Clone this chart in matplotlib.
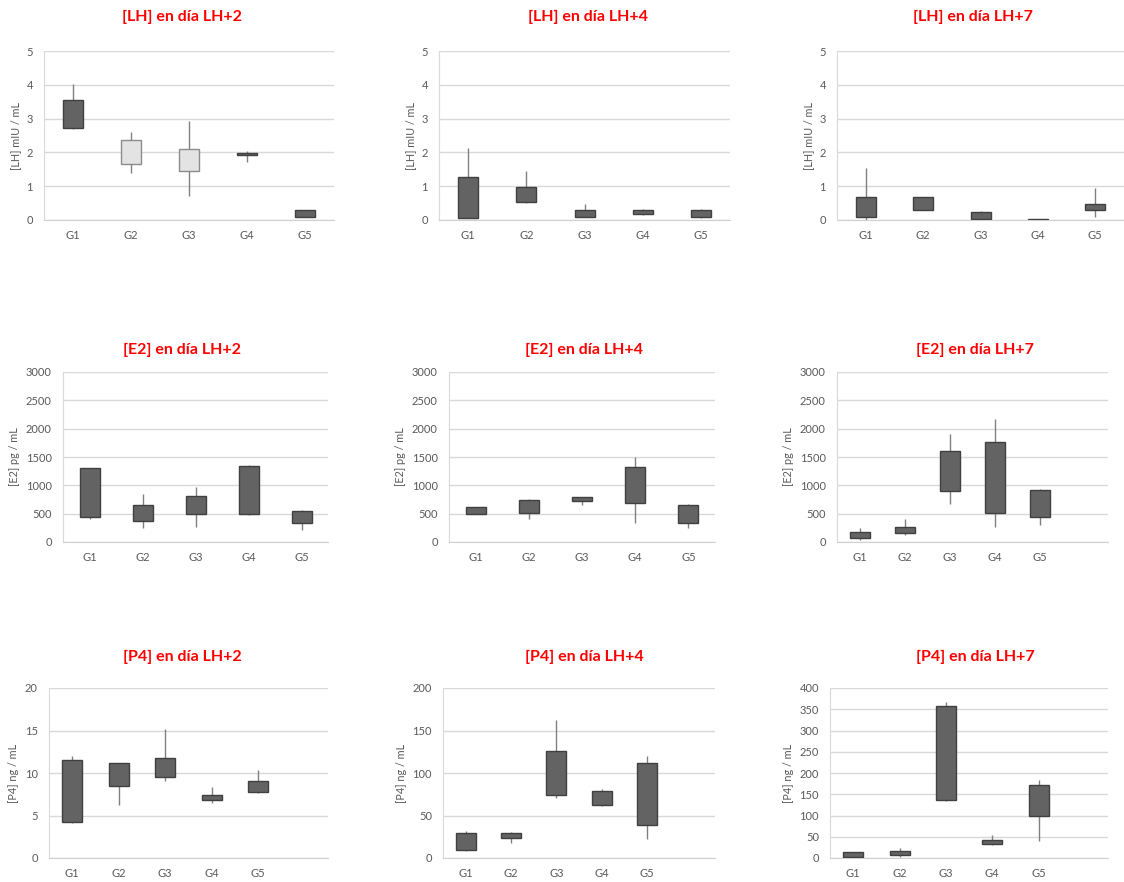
import matplotlib
matplotlib.use("Agg")
import matplotlib.pyplot as plt

plt.rcParams['font.family'] = ['Lato', 'DejaVu Sans']

grupos = ['G1', 'G2', 'G3', 'G4', 'G5']

# [LH] mIU/mL  -> min, caja inferior, caja superior, max
lh2_min = [2.70, 1.38, 0.71, 1.72, 0.08]
lh2_inf = [2.73, 1.65, 1.46, 1.91, 0.08]
lh2_sup = [3.56, 2.38, 2.10, 1.99, 0.31]
lh2_max = [4.03, 2.61, 2.92, 2.05, 0.31]

lh4_min = [0.07, 0.50, 0.08, 0.15, 0.05]
lh4_inf = [0.07, 0.53, 0.10, 0.17, 0.10]
lh4_sup = [1.26, 0.98, 0.31, 0.29, 0.31]
lh4_max = [2.14, 1.45, 0.46, 0.33, 0.33]

lh7_min = [0.00, 0.30, 0.02, 0.00, 0.08]
lh7_inf = [0.10, 0.30, 0.02, 0.00, 0.30]
lh7_sup = [0.69, 0.67, 0.24, 0.04, 0.47]
lh7_max = [1.55, 0.67, 0.28, 0.04, 0.94]

# [E2] pg/mL
e22_min = [413, 248, 266, 472, 207]
e22_inf = [443, 366, 502, 496, 337]
e22_sup = [1299, 650, 809, 1341, 555]
e22_max = [1300, 839, 963, 1358, 570]

e24_min = [500, 413, 650, 337, 254]
e24_inf = [502, 514, 715, 685, 331]
e24_sup = [620, 750, 791, 1329, 661]
e24_max = [620, 760, 800, 1506, 670]

e27_min = [41, 130, 679, 266, 295]
e27_inf = [71, 159, 904, 508, 443]
e27_sup = [177, 260, 1612, 1772, 915]
e27_max = [248, 402, 1902, 2167, 930]

# [P4] ng/mL
p42_min = [4.1, 6.2, 9.06, 6.43, 7.7]
p42_inf = [4.24, 8.43, 9.53, 6.78, 7.76]
p42_sup = [11.57, 11.14, 11.73, 7.37, 9.06]
p42_max = [12.04, 11.2, 15.18, 8.35, 10.39]

p44_min = [8.6, 17.6, 71, 61, 22.4]
p44_inf = [9.8, 23.1, 74.5, 62.4, 38.4]
p44_sup = [29.8, 29.8, 125.9, 78.4, 111.8]
p44_max = [31.4, 30.5, 162.7, 81.6, 119.6]

p47_min = [3.0, 3.1, 135, 31.4, 39.2]
p47_inf = [3.1, 6.3, 135.7, 33.7, 98]
p47_sup = [14.1, 15.7, 356.9, 42.4, 171]
p47_max = [14.1, 23.5, 366.3, 54.9, 184.3]

W, H = 1124, 882
OSCURO = '#636363'
CLARO = '#e3e3e3'

fig = plt.figure(figsize=(W / 100, H / 100), dpi=100)
fig.patch.set_facecolor('white')


def panel(izq, der, arriba, abajo, nslots, ymax, paso, ylabel, titulo, tx, ty,
          vmin, vinf, vsup, vmax, colores=None):
    ax = fig.add_axes([izq / W, 1 - abajo / H, (der - izq) / W, (abajo - arriba) / H])
    x = list(range(len(grupos)))
    slot_px = (der - izq) / nslots
    ancho = 20 / slot_px
    if colores is None:
        colores = [OSCURO] * len(grupos)
    bordes = ['#404040' if c == OSCURO else '#8c8c8c' for c in colores]
    ax.vlines(x, vmin, vmax, color='#808080', lw=1, zorder=2)
    alturas = [s - i for s, i in zip(vsup, vinf)]
    ax.bar(x, alturas, bottom=vinf, width=ancho, color=colores,
           edgecolor=bordes, linewidth=1, zorder=3)
    ax.set_xlim(-0.5, nslots - 0.5)
    ax.set_ylim(0, ymax)
    ticks = [paso * k for k in range(int(round(ymax / paso)) + 1)]
    ax.set_yticks(ticks)
    ax.set_xticks(x)
    ax.set_xticklabels(grupos)
    ax.yaxis.grid(True, color='#d9d9d9', lw=1)
    ax.set_axisbelow(True)
    for s in ['top', 'right']:
        ax.spines[s].set_visible(False)
    ax.spines['left'].set_color('#d9d9d9')
    ax.spines['bottom'].set_color('#d0d0d0')
    ax.tick_params(length=0, colors='#595959', labelsize=8)
    ax.tick_params(axis='y', pad=8)
    ax.tick_params(axis='x', pad=7)
    ax.set_ylabel(ylabel, fontsize=7.8, color='#595959', labelpad=4)
    fig.text(tx / W, 1 - ty / H, titulo, color='#ff0000', fontsize=11.5,
             fontweight='bold', ha='center', va='center')
    return ax


panel(44, 334, 51, 220, 5, 5, 1, '[LH] mIU / mL', '[LH] en día LH+2', 182, 17,
      lh2_min, lh2_inf, lh2_sup, lh2_max,
      colores=[OSCURO, CLARO, CLARO, OSCURO, OSCURO])
panel(439, 730, 51, 220, 5, 5, 1, '[LH] mIU / mL', '[LH] en día LH+4', 588, 17,
      lh4_min, lh4_inf, lh4_sup, lh4_max)
panel(837, 1124, 51, 220, 5, 5, 1, '[LH] mIU / mL', '[LH] en día LH+7', 973, 17,
      lh7_min, lh7_inf, lh7_sup, lh7_max)

panel(63, 328, 372, 542, 5, 3000, 500, '[E2] pg / mL', '[E2] en día LH+2', 182, 350,
      e22_min, e22_inf, e22_sup, e22_max)
panel(449, 715, 372, 542, 5, 3000, 500, '[E2] pg / mL', '[E2] en día LH+4', 584, 350,
      e24_min, e24_inf, e24_sup, e24_max)
panel(837, 1108, 372, 542, 6, 3000, 500, '[E2] pg / mL', '[E2] en día LH+7', 975, 350,
      e27_min, e27_inf, e27_sup, e27_max)

panel(49, 328, 688, 858, 6, 20, 5, '[P4] ng / mL', '[P4] en día LH+2', 182, 657,
      p42_min, p42_inf, p42_sup, p42_max)
panel(443, 715, 688, 858, 6, 200, 50, '[P4] ng / mL', '[P4] en día LH+4', 584, 657,
      p44_min, p44_inf, p44_sup, p44_max)
panel(830, 1108, 688, 858, 6, 400, 50, '[P4] ng / mL', '[P4] en día LH+7', 975, 657,
      p47_min, p47_inf, p47_sup, p47_max)

fig.savefig('out.png', dpi=100, facecolor='white')
